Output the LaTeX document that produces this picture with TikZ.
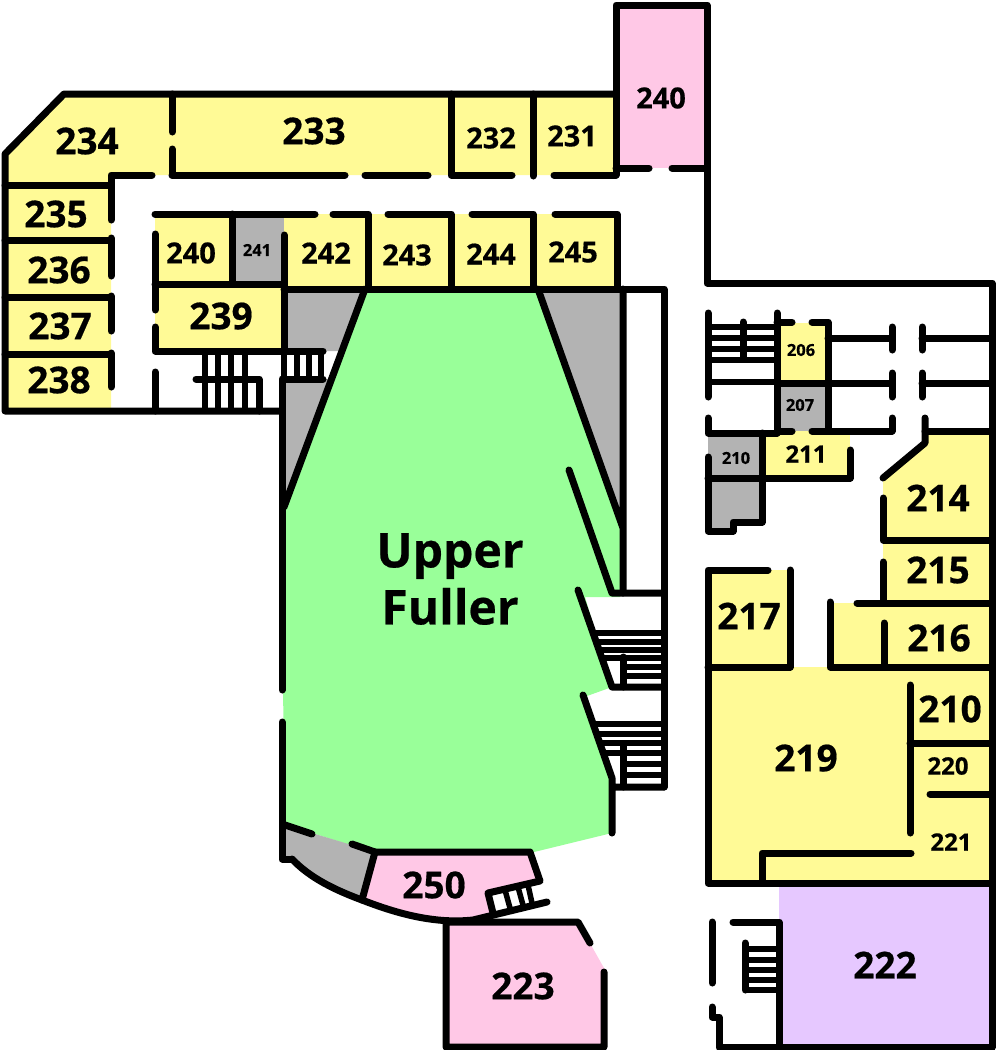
\documentclass[tikz,border=0pt]{standalone}
\usepackage{fontspec}
\setmainfont[BoldFeatures={FakeBold=0.5}]{Open Sans}
\definecolor{roomyellow}{HTML}{FFFA96}
\definecolor{roompink}{HTML}{FFC8E6}
\definecolor{roomgray}{HTML}{B3B3B3}
\definecolor{roomgreen}{HTML}{99FF99}
\definecolor{roompurple}{HTML}{E6C8FF}
\tikzset{ wall/.style = { line width = 7pt
                        , line cap   = round
                        , line join  = round
                        },
          big/.style = { inner sep = 0pt
                       , font = \bfseries\fontsize{37}{37}\selectfont
                       },
          mid/.style = { inner sep = 0pt
                       , font = \bfseries\fontsize{29}{29}\selectfont
                       },
          low/.style = { inner sep = 0pt
                       , font = \bfseries\fontsize{24}{24}\selectfont
                       },
          tiny/.style = { inner sep = 0pt
                        , font = \bfseries\fontsize{16.5}{16.5}\selectfont
                        }
        }

\begin{document}
\begin{tikzpicture}[x=1pt,y=-1pt]
  \useasboundingbox (0,0) rectangle (1000,1050);
  % room fills
  \fill[roomyellow] (5,154) -- (64,94) -- (616,94) -- (616,175) -- (111,175) -- (111,408) -- (5,408) -- cycle;
  \fill[roomyellow] (155,214) rectangle (618,289);
  \fill[roomyellow] (155,284) rectangle (284,351);
  \fill[roomgray] (232,214) rectangle (284,284);
  \fill[roompink] (616,5) rectangle (707,168);
  \fill[roomgray] (284,289) -- (365,289) -- (340,351) -- (284,351) -- (284,379) -- (329,379) -- (284,507) -- cycle;
  \fill[roomgray] (538,289) -- (623,289) -- (623,530) -- cycle;
  \fill[roomgreen] (365,289) -- (538,289) -- (620,525) -- (620,597) -- (585,597) -- (612,687)
    -- (587,696) -- (612,778) -- (612,833) -- (530,853) -- (375,853) -- (284,824) -- (282,510) -- cycle;
  \fill[roomgray] (282,824) -- (375,852) -- (362,900) .. controls (335,890) and (310,878) .. (292,859) -- (282,859) -- cycle;
  \fill[roompink] (375,852) -- (530,852) -- (540,881) -- (488,893) -- (493,913) -- (473,920)
    .. controls (435,924) and (398,914) .. (362,900) -- cycle;
  \fill[roompink] (446,922) -- (578,922) -- (604,968) -- (604,1047) -- (446,1047) -- cycle;
  \fill[roomyellow] (780,323) rectangle (828,383);
  \fill[roomgray] (777,383) rectangle (828,431);
  \fill[roomyellow] (762,431) rectangle (850,478);
  \fill[roomgray] (708,433) -- (762,433) -- (762,522) -- (733,522) -- (733,531) -- (708,531) -- cycle;
  \fill[roomyellow] (925,431) -- (992,431) -- (992,603) -- (883,603) -- (883,478) -- (925,443) -- cycle;
  \fill[roomyellow] (830,603) rectangle (992,667);
  \fill[roomyellow] (708,570) rectangle (790,667);
  \fill[roomyellow] (708,667) rectangle (992,883);
  \fill[roompurple] (779,883) rectangle (992,1047);

  % west wing
  \draw[wall] (282,411) -- (5,411) -- (5,154) -- (64,94) -- (616,94);
  \draw[wall] (172,94) -- (172,132) (172,149) -- (172,175);
  \draw[wall] (152,175) -- (111,175) -- (111,220) (111,238) -- (111,276) (111,296) -- (111,331) (111,353) -- (111,387);
  \draw[wall] (172,175) -- (345,175) (365,175) -- (428,175) (451,94) -- (451,175) -- (512,175);
  \draw[wall] (533,94) -- (533,176) (554,175) -- (616,175);
  \foreach \ypos in {185,240,297,354}
    \draw[wall] (5,\ypos) -- (111,\ypos);
  \draw[wall] (155,214) -- (315,214) (333,214) -- (368,214) -- (368,289) (388,214) -- (451,214) -- (451,289);
  \draw[wall] (472,214) -- (533,214) -- (533,289) (555,214) -- (617,214) -- (617,289);
  \draw[wall] (155,234) -- (155,310) (155,327) -- (155,351) -- (323,351) (155,372) -- (155,411);
  \draw[wall] (155,284) -- (284,284) (232,214) -- (232,284) (284,235) -- (284,351);
  \draw[wall] (284,289) -- (664,289) -- (664,787);
  \draw[wall] (196,379) -- (259,379) -- (259,411) (284,379) -- (323,379);
  \foreach \xpos in {205,218,231,245}
    \draw[wall,line width=6pt,line cap=butt] (\xpos,351) -- (\xpos,411);
  \foreach \xpos in {284,297,309,321}
    \draw[wall,line width=6pt,line cap=butt] (\xpos,351) -- (\xpos,379);

  % hall
  \draw[wall] (282,379) -- (282,690) (282,722) -- (282,859) -- (292,859);
  \draw[wall] (365,289) -- (284,507);
  \draw[wall] (538,289) -- (623,528) (623,289) -- (623,593);
  \draw[wall] (569,470) -- (612,593) -- (664,593);
  \draw[wall] (578,590) -- (612,687) -- (664,687);
  \draw[wall] (583,695) -- (612,778) -- (612,833) (612,787) -- (664,787);
  \draw[wall] (623,657) -- (623,687) (623,744) -- (623,787);
  \foreach \xpos/\ypos in {593/633,596/642,599/650,602/658,623/667,623/676,593/724,597/734,600/743,603/753,623/764,623/775}
    \draw[wall,line width=6pt,line cap=butt] (\xpos,\ypos) -- (664,\ypos);

  % rooms 240 and 250, 223
  \draw[wall] (616,175) -- (616,5) -- (707,5) -- (707,283) -- (992,283) -- (992,1047) -- (719,1047) -- (719,1017) -- (712,1017) -- (712,1007);
  \draw[wall] (616,168) -- (649,168) (672,168) -- (707,168);
  \draw[wall] (285,825) -- (312,834) (352,844) -- (375,852) -- (530,852) -- (540,881) -- (488,893) -- (493,913);
  \draw[wall] (375,852) -- (362,900);
  \draw[wall] (292,859) .. controls (310,878) and (335,890) .. (362,900) .. controls (398,914) and (435,924) .. (473,920) -- (547,902);
  \foreach \xa/\ya/\xb/\yb in {505/890/510/908,518/887/523/905,528/885/532/903}
    \draw[wall,line width=5.5pt,line cap=butt] (\xa,\ya) -- (\xb,\yb);
  \draw[wall] (590,943) -- (578,922) -- (446,922) -- (446,1047) -- (604,1047) -- (604,972);

  % east stairs and offices
  \draw[wall] (708,313) -- (708,397) (777,313) -- (777,433) (743,322) -- (743,358);
  \foreach \ypos in {327,338,349,360,382}
    \draw[wall,line width=6pt,line cap=butt] (708,\ypos) -- (777,\ypos);
  \draw[wall] (777,322) -- (792,322) (812,322) -- (828,322) -- (828,431) -- (812,431) (792,431) -- (777,431);
  \draw[wall] (777,383) -- (892,383) (828,338) -- (892,338) (828,431) -- (892,431);
  \draw[wall] (892,327) -- (892,350) (892,373) -- (892,397) (892,418) -- (892,431);
  \draw[wall] (922,327) -- (922,350) (922,373) -- (922,397);
  \draw[wall] (922,338) -- (992,338) (922,383) -- (992,383) (925,431) -- (992,431);
  \draw[wall] (925,418) -- (925,443) -- (883,478);
  \draw[wall] (883,498) -- (883,540) -- (992,540) (883,562) -- (883,603);
  \draw[wall] (857,603) -- (992,603);
  \draw[wall] (708,418) -- (708,433) -- (777,433);
  \draw[wall] (708,457) -- (708,531) -- (733,531) -- (733,522) -- (762,522) -- (762,433);
  \draw[wall] (708,478) -- (850,478) -- (850,450);
  \draw[wall] (768,570) -- (708,570) -- (708,883) -- (992,883);
  \draw[wall] (790,570) -- (790,667) -- (708,667);
  \draw[wall] (830,602) -- (830,667) -- (992,667) (884,623) -- (884,667);
  \draw[wall] (910,685) -- (910,833) (910,743) -- (992,743) (930,794) -- (992,794);
  \draw[wall] (911,853) -- (762,853) -- (762,883);
  \draw[wall] (733,922) -- (779,922) -- (779,1047) (712,922) -- (712,983);
  \draw[wall] (745,943) -- (745,990);
  \foreach \ypos in {949,960,970,980,990}
    \draw[wall,line width=6pt,line cap=butt] (745,\ypos) -- (779,\ypos);

  % labels
  \node[big] (r234) at (87,141) {234};
  \node[big] (r233) at (314,131) {233};
  \node[mid] (r232) at (491,138) {232};
  \node[mid] (r231) at (572,136) {231};
  \node[mid] (r240a) at (661,98) {240};
  \node[big] (r235) at (56,214) {235};
  \node[big] (r236) at (59,270) {236};
  \node[big] (r237) at (60,326) {237};
  \node[big] (r238) at (59,380) {238};
  \node[mid] (r240b) at (191,253) {240};
  \node[tiny] (r241) at (257,250) {241};
  \node[mid] (r242) at (326,253) {242};
  \node[mid] (r243) at (407,255) {243};
  \node[mid] (r244) at (491,254) {244};
  \node[mid] (r245) at (573,252) {245};
  \node[big] (r239) at (221,316) {239};
  \node[tiny] (r206) at (801,350) {206};
  \node[tiny] (r207) at (800,405) {207};
  \node[tiny] (r210a) at (736,458) {210};
  \node[low] (r211) at (806,454) {211};
  \node[big] (r214) at (938,498) {214};
  \node[big] (r215) at (938,570) {215};
  \node[big] (r216) at (939,638) {216};
  \node[big] (r217) at (749,616) {217};
  \node[big] (r219) at (806,758) {219};
  \node[big] (r210b) at (950,709) {210};
  \node[low] (r220) at (948,766) {220};
  \node[low] (r221) at (951,842) {221};
  \node[big] (r222) at (885,965) {222};
  \node[big] (r223) at (523,986) {223};
  \node[big] (r250) at (434,885) {250};
  \node[inner sep=0pt,align=center,font=\bfseries\fontsize{48}{57}\selectfont] (hall) at (450,579) {Upper\\Fuller};
\end{tikzpicture}
\end{document}
